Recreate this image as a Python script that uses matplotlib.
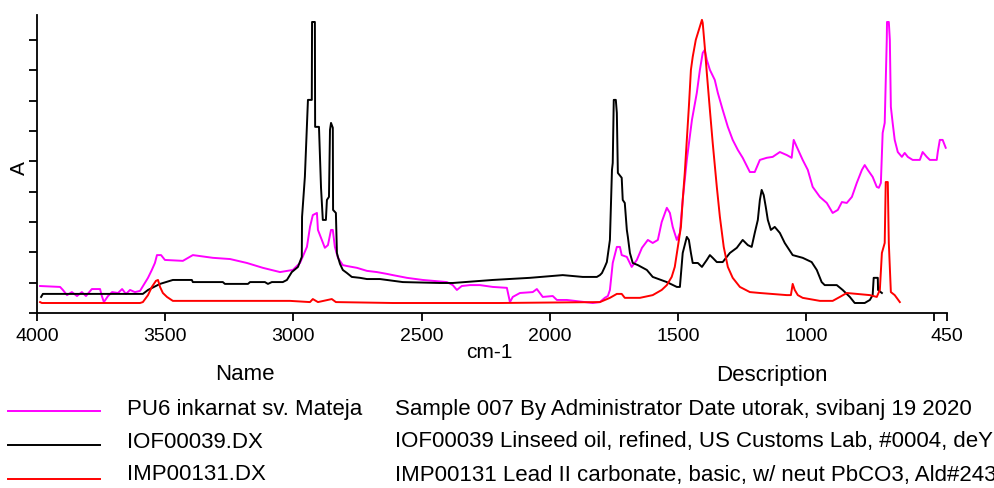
import numpy as np
import matplotlib.pyplot as plt
from matplotlib.lines import Line2D

plt.rcParams['font.family'] = ['Liberation Sans', 'DejaVu Sans']

# PU6 inkarnat sv. Mateja (sample)
pu6_wn = [3988, 3910, 3899, 3883, 3864, 3844, 3825, 3809, 3786, 3754, 3747, 3739, 3723, 3707,
          3684, 3668, 3653, 3637, 3618, 3598, 3579, 3567, 3552, 3540, 3532, 3516, 3501, 3431,
          3392, 3314, 3247, 3181, 3119, 3052, 3002, 2974, 2947, 2935, 2924, 2908, 2904, 2889,
          2877, 2865, 2853, 2846, 2838, 2826, 2807, 2791, 2752, 2713, 2674, 2635, 2612, 2557,
          2495, 2401, 2378, 2362, 2343, 2311, 2272, 2222, 2167, 2155, 2144, 2116, 2066, 2050,
          2027, 1988, 1972, 1933, 1832, 1804, 1785, 1773, 1765, 1754, 1738, 1726, 1719, 1699,
          1680, 1660, 1640, 1617, 1598, 1578, 1563, 1543, 1531, 1520, 1504, 1492, 1481, 1465,
          1445, 1426, 1414, 1403, 1395, 1387, 1375, 1356, 1344, 1325, 1305, 1286, 1266, 1247,
          1219, 1200, 1180, 1153, 1130, 1102, 1075, 1056, 1048, 1036, 1013, 993, 974, 946,
          919, 896, 876, 860, 841, 821, 802, 782, 771, 759, 740, 724, 716, 708, 701, 693,
          685, 684, 677, 673, 669, 662, 654, 642, 626, 615, 603, 584, 556, 545, 529, 517,
          490, 486, 478, 467, 455]
pu6_a = [0.089, 0.086, 0.076, 0.059, 0.069, 0.056, 0.069, 0.056, 0.079, 0.079, 0.056, 0.036, 0.056, 0.069,
         0.066, 0.079, 0.063, 0.076, 0.069, 0.073, 0.099, 0.116, 0.142, 0.165, 0.191, 0.191, 0.175, 0.172,
         0.191, 0.182, 0.178, 0.165, 0.149, 0.135, 0.142, 0.165, 0.218, 0.284, 0.323, 0.330, 0.274, 0.241,
         0.215, 0.224, 0.274, 0.274, 0.218, 0.182, 0.158, 0.155, 0.149, 0.139, 0.135, 0.129, 0.125, 0.116,
         0.109, 0.102, 0.092, 0.076, 0.089, 0.092, 0.092, 0.086, 0.083, 0.036, 0.053, 0.066, 0.069, 0.079,
         0.053, 0.056, 0.043, 0.043, 0.033, 0.036, 0.050, 0.056, 0.076, 0.165, 0.218, 0.218, 0.191, 0.185,
         0.152, 0.175, 0.215, 0.241, 0.231, 0.241, 0.300, 0.347, 0.330, 0.284, 0.241, 0.264, 0.373, 0.505,
         0.637, 0.726, 0.802, 0.858, 0.868, 0.835, 0.802, 0.769, 0.726, 0.670, 0.614, 0.571, 0.538, 0.512,
         0.465, 0.465, 0.505, 0.512, 0.515, 0.531, 0.521, 0.512, 0.571, 0.548, 0.505, 0.472, 0.416, 0.383,
         0.363, 0.330, 0.340, 0.366, 0.363, 0.383, 0.429, 0.472, 0.488, 0.472, 0.449, 0.416, 0.413, 0.429, 0.594, 0.627,
         0.901, 0.960, 0.960, 0.901, 0.680, 0.627, 0.571, 0.531, 0.515, 0.528, 0.515, 0.505, 0.505, 0.531, 0.515, 0.505,
         0.505, 0.531, 0.571, 0.571, 0.545]

# IOF00039.DX (linseed oil)
iof_wn = [3984, 3977, 3587, 3567, 3520, 3470, 3396, 3392, 3275, 3267, 3177, 3169, 3111, 3099,
          3084, 3041, 3025, 3006, 2982, 2967, 2966, 2955, 2943, 2928, 2927, 2916, 2915, 2900,
          2892, 2885, 2873, 2869, 2861, 2857, 2853, 2846, 2845, 2834, 2830, 2826, 2818, 2807,
          2791, 2772, 2740, 2713, 2662, 2573, 2428, 2378, 2222, 2077, 1949, 1871, 1816, 1804,
          1796, 1785, 1777, 1765, 1757, 1754, 1750, 1742, 1738, 1734, 1719, 1715, 1707, 1699,
          1695, 1687, 1676, 1656, 1621, 1598, 1543, 1504, 1492, 1481, 1465, 1457, 1449, 1442,
          1422, 1406, 1387, 1375, 1364, 1348, 1325, 1297, 1270, 1247, 1227, 1212, 1200, 1188,
          1180, 1173, 1165, 1157, 1149, 1137, 1122, 1102, 1083, 1052, 1013, 978, 958, 939,
          927, 880, 857, 829, 810, 771, 751, 740, 736, 720, 719, 704]
iof_a = [0.053, 0.063, 0.063, 0.076, 0.096, 0.109, 0.109, 0.102, 0.102, 0.096, 0.096, 0.102, 0.102, 0.096,
         0.102, 0.102, 0.109, 0.135, 0.152, 0.185, 0.317, 0.449, 0.703, 0.703, 0.960, 0.960, 0.614, 0.614,
         0.413, 0.307, 0.307, 0.373, 0.383, 0.604, 0.627, 0.611, 0.340, 0.330, 0.198, 0.185, 0.162, 0.142,
         0.132, 0.119, 0.116, 0.112, 0.112, 0.102, 0.099, 0.099, 0.109, 0.116, 0.125, 0.119, 0.119, 0.125,
         0.132, 0.152, 0.168, 0.241, 0.472, 0.495, 0.703, 0.703, 0.660, 0.462, 0.446, 0.373, 0.363, 0.274,
         0.251, 0.198, 0.165, 0.158, 0.142, 0.119, 0.102, 0.086, 0.086, 0.198, 0.251, 0.241, 0.198, 0.165,
         0.165, 0.152, 0.175, 0.191, 0.182, 0.168, 0.168, 0.198, 0.215, 0.241, 0.224, 0.218, 0.264, 0.307,
         0.373, 0.406, 0.389, 0.350, 0.307, 0.274, 0.284, 0.264, 0.231, 0.191, 0.182, 0.168, 0.142, 0.102,
         0.092, 0.092, 0.076, 0.053, 0.033, 0.033, 0.043, 0.059, 0.116, 0.116, 0.076, 0.066]

# IMP00131.DX (lead II carbonate)
imp_wn = [3988, 3981, 3598, 3587, 3567, 3552, 3536, 3528, 3520, 3509, 3493, 3470, 3013, 2935,
          2924, 2904, 2850, 2834, 2612, 2194, 1804, 1765, 1738, 1719, 1707, 1648, 1598, 1563,
          1543, 1524, 1512, 1500, 1488, 1481, 1473, 1465, 1457, 1449, 1442, 1430, 1418, 1406,
          1403, 1395, 1387, 1375, 1364, 1348, 1336, 1321, 1305, 1286, 1258, 1219, 1180, 1075,
          1059, 1052, 1044, 1032, 1013, 946, 896, 868, 841, 802, 751, 724, 712, 704, 693,
          689, 681, 677, 669, 654, 634]
imp_a = [0.036, 0.033, 0.033, 0.036, 0.059, 0.086, 0.106, 0.109, 0.086, 0.066, 0.053, 0.040, 0.040, 0.036,
         0.046, 0.036, 0.046, 0.036, 0.033, 0.033, 0.036, 0.050, 0.063, 0.063, 0.050, 0.050, 0.059, 0.076,
         0.092, 0.119, 0.152, 0.218, 0.284, 0.373, 0.462, 0.571, 0.680, 0.802, 0.845, 0.901, 0.934, 0.967,
         0.957, 0.878, 0.792, 0.670, 0.561, 0.416, 0.317, 0.218, 0.152, 0.116, 0.086, 0.069, 0.066, 0.059,
         0.059, 0.096, 0.076, 0.059, 0.050, 0.040, 0.040, 0.053, 0.066, 0.063, 0.059, 0.053, 0.076, 0.198, 0.231,
         0.432, 0.432, 0.231, 0.069, 0.059, 0.036]

names = ['PU6 inkarnat sv. Mateja', 'IOF00039.DX', 'IMP00131.DX']
descriptions = ['Sample 007 By Administrator Date utorak, svibanj 19 2020',
                'IOF00039 Linseed oil, refined, US Customs Lab, #0004, deY',
                'IMP00131 Lead II carbonate, basic, w/ neut PbCO3, Ald#243']
colors = ['#ff00ff', '#000000', '#ff0000']

x_ticks = [4000, 3500, 3000, 2500, 2000, 1500, 1000, 500, 450]
x_tick_labels = ['4000', '3500', '3000', '2500', '2000', '1500', '1000', '', '450']

W, H = 995, 488
fig = plt.figure(figsize=(W / 100, H / 100), dpi=100)
ax = fig.add_axes([37 / W, 175 / H, 910 / W, 298 / H])

for wn, a, c in zip([pu6_wn, iof_wn, imp_wn], [pu6_a, iof_a, imp_a], colors):
    ax.plot(wn, a, color=c, lw=1.4)

ax.set_xlim(4000, 450)
ax.set_ylim(0, 0.983)
ax.set_xticks(x_ticks)
ax.set_xticklabels(x_tick_labels, fontsize=14)
ax.set_yticks(np.arange(10) / 10)
ax.set_yticklabels([])
ax.tick_params(length=6, width=1.3, pad=5)
for s in ['top', 'right']:
    ax.spines[s].set_visible(False)
for s in ['left', 'bottom']:
    ax.spines[s].set_linewidth(1.3)

ax.set_xlabel('cm-1', fontsize=15)
ax.xaxis.set_label_coords(0.497, -0.10)
ax.set_ylabel('A', fontsize=15)
ax.yaxis.set_label_coords(-0.009, 0.487)

# legend table under the plot
fig.text(245 / W, 1 - 375 / H, 'Name', fontsize=16, ha='center', va='center')
fig.text(772 / W, 1 - 375 / H, 'Description', fontsize=16, ha='center', va='center')
row_y = [410, 442, 475]
line_y = [411, 445, 479]
for i in range(3):
    fig.add_artist(Line2D([8 / W, 100 / W], [1 - line_y[i] / H] * 2, color=colors[i], lw=1.4))
    fig.text(127 / W, 1 - row_y[i] / H, names[i], fontsize=16, ha='left', va='center')
    fig.text(395 / W, 1 - row_y[i] / H, descriptions[i], fontsize=16, ha='left', va='center')

fig.savefig('out.png', dpi=100)
